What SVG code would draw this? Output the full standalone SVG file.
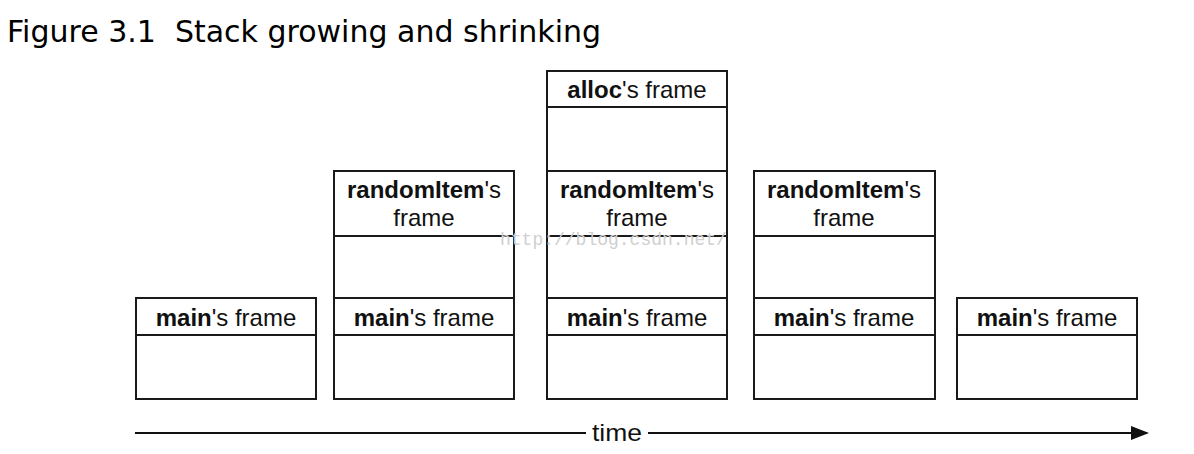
<svg xmlns="http://www.w3.org/2000/svg" width="1194" height="454" viewBox="0 0 1194 454">
<style>
.box{fill:#fff;stroke:#1a1a1a;stroke-width:2}
.lbl{font-family:"Liberation Sans",Arial,sans-serif;font-size:24px;fill:#111;text-anchor:middle}
.b{font-weight:bold}
.title{font-family:"DejaVu Sans",sans-serif;font-size:30px;fill:#000;white-space:pre}
.wm{font-family:"Liberation Mono",monospace;font-size:18px;fill:#cfcfcf}
</style>
<defs>
<marker id="ah" markerWidth="18" markerHeight="14" refX="16" refY="7" orient="auto" markerUnits="userSpaceOnUse">
<path d="M0,0 L18,7 L0,14 Z" fill="#111"/>
</marker>
</defs>
<rect width="1194" height="454" fill="#fff"/>
<text class="title" x="7" y="42" xml:space="preserve">Figure 3.1  Stack growing and shrinking</text>

<g id="col1">
<rect class="box" x="136" y="298" width="180" height="101"/>
<line class="box" x1="136" y1="335" x2="316" y2="335"/>
<text class="lbl" x="226" y="326"><tspan class="b">main</tspan>'s frame</text>
</g>

<g id="col2">
<rect class="box" x="334" y="171" width="180" height="228"/>
<line class="box" x1="334" y1="236" x2="514" y2="236"/>
<line class="box" x1="334" y1="298" x2="514" y2="298"/>
<line class="box" x1="334" y1="335" x2="514" y2="335"/>
<text class="lbl" x="424" y="198"><tspan class="b">randomItem</tspan>'s</text>
<text class="lbl" x="424" y="226">frame</text>
<text class="lbl" x="424" y="326"><tspan class="b">main</tspan>'s frame</text>
</g>

<g id="col3">
<rect class="box" x="547" y="71" width="180" height="328"/>
<line class="box" x1="547" y1="107" x2="727" y2="107"/>
<line class="box" x1="547" y1="171" x2="727" y2="171"/>
<line class="box" x1="547" y1="236" x2="727" y2="236"/>
<line class="box" x1="547" y1="298" x2="727" y2="298"/>
<line class="box" x1="547" y1="335" x2="727" y2="335"/>
<text class="lbl" x="637" y="98"><tspan class="b">alloc</tspan>'s frame</text>
<text class="lbl" x="637" y="198"><tspan class="b">randomItem</tspan>'s</text>
<text class="lbl" x="637" y="226">frame</text>
<text class="lbl" x="637" y="326"><tspan class="b">main</tspan>'s frame</text>
</g>

<g id="col4">
<rect class="box" x="754" y="171" width="181" height="228"/>
<line class="box" x1="754" y1="236" x2="935" y2="236"/>
<line class="box" x1="754" y1="298" x2="935" y2="298"/>
<line class="box" x1="754" y1="335" x2="935" y2="335"/>
<text class="lbl" x="844" y="198"><tspan class="b">randomItem</tspan>'s</text>
<text class="lbl" x="844" y="226">frame</text>
<text class="lbl" x="844" y="326"><tspan class="b">main</tspan>'s frame</text>
</g>

<g id="col5">
<rect class="box" x="957" y="298" width="180" height="101"/>
<line class="box" x1="957" y1="335" x2="1137" y2="335"/>
<text class="lbl" x="1047" y="326"><tspan class="b">main</tspan>'s frame</text>
</g>

<g id="connectors">
<line x1="135" y1="433" x2="586" y2="433" stroke="#111" stroke-width="2"/>
<line x1="648" y1="433" x2="1147" y2="433" stroke="#111" stroke-width="2" marker-end="url(#ah)"/>
<text class="lbl" x="617" y="441" textLength="50" lengthAdjust="spacingAndGlyphs">time</text>
</g>

<text class="wm" x="500" y="245">http://blog.csdn.net/</text>
</svg>
